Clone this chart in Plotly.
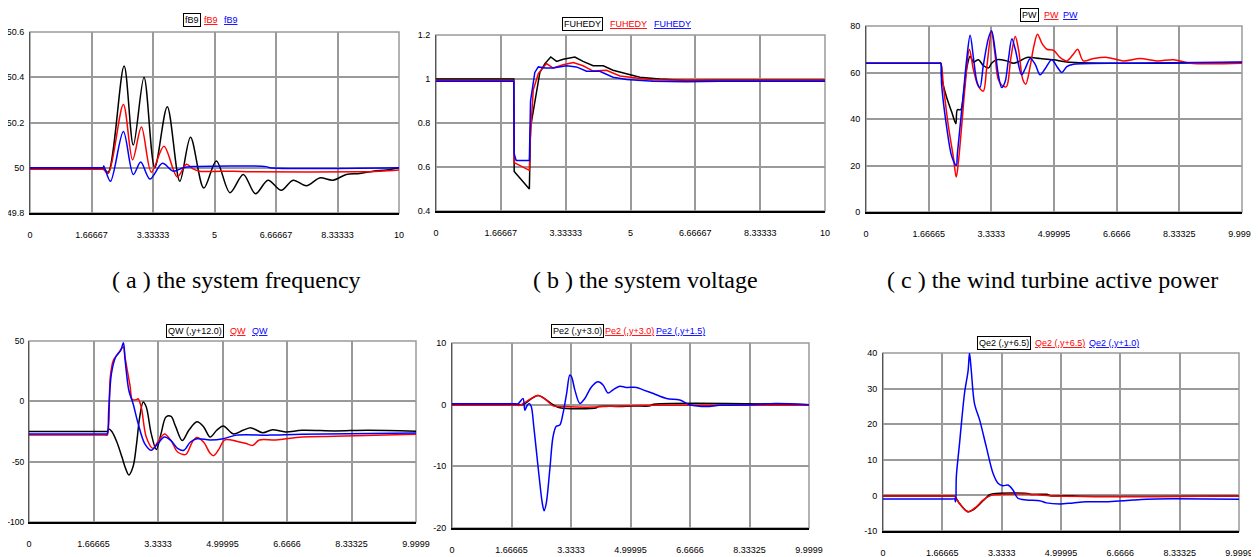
import plotly.graph_objects as go
from plotly.subplots import make_subplots

W, H = 1259, 557
OFF = 8  # page body margin of the html page
FW, FH = W - OFF, H - OFF

# ---------------- (a) system frequency ----------------
a_black_t = [0, 1.9, 1.985, 2.12, 2.55, 2.80, 3.09, 3.38, 3.72, 4.06, 4.35, 4.71, 5.05, 5.42, 5.78, 6.11, 6.45, 6.81, 7.13, 7.49, 7.85, 8.21, 8.57, 8.94, 9.30, 9.66, 10]
a_black_v = [49.997, 49.997, 49.997, 49.98, 50.45, 50.10, 50.40, 50.00, 50.27, 49.94, 50.135, 49.91, 50.03, 49.89, 49.97, 49.885, 49.945, 49.90, 49.945, 49.92, 49.955, 49.945, 49.97, 49.975, 49.985, 49.99, 50.0]
a_red_t = [0, 1.9, 1.985, 2.12, 2.53, 2.78, 3.02, 3.29, 3.63, 3.99, 4.24, 4.42, 4.6, 5.5, 6.0, 9.0, 9.5, 10]
a_red_v = [49.993, 49.993, 49.993, 49.975, 50.28, 50.035, 50.18, 49.98, 50.095, 49.96, 50.015, 49.995, 49.985, 49.985, 49.982, 49.982, 49.985, 49.99]
a_blue_t = [0, 1.9, 1.985, 2.0, 2.18, 2.53, 2.80, 3.0, 3.25, 3.59, 3.88, 4.15, 4.4, 6.4, 6.5, 10]
a_blue_v = [50.0, 50.0, 50.0, 50.008, 49.94, 50.16, 49.97, 50.025, 49.95, 50.02, 49.985, 50.0, 50.005, 50.005, 50.0, 50.0]

# ---------------- (b) system voltage ----------------
b_black_t = [0, 2.0, 2.01, 2.40, 2.43, 2.54, 2.67, 2.80, 2.95, 3.10, 3.27, 3.57, 3.78, 4.04, 4.30, 4.55, 4.90, 5.24, 5.75, 6.44, 7.3, 10]
b_black_v = [1.0, 1.0, 0.58, 0.50, 0.78, 0.90, 1.03, 1.07, 1.10, 1.08, 1.09, 1.10, 1.08, 1.06, 1.06, 1.04, 1.025, 1.008, 1.0, 0.993, 0.995, 0.995]
b_red_t = [0, 2.0, 2.01, 2.40, 2.42, 2.50, 2.63, 2.84, 3.01, 3.27, 3.53, 3.78, 4.04, 4.38, 4.73, 5.07, 5.58, 10]
b_red_v = [0.993, 0.993, 0.62, 0.585, 0.72, 0.95, 1.025, 1.07, 1.05, 1.065, 1.075, 1.06, 1.036, 1.04, 1.014, 1.006, 0.996, 0.996]
b_blue_t = [0, 2.0, 2.01, 2.06, 2.40, 2.43, 2.54, 2.63, 2.80, 3.01, 3.36, 3.61, 3.87, 4.21, 4.55, 4.90, 5.58, 6.44, 7.3, 10]
b_blue_v = [0.99, 0.99, 0.66, 0.63, 0.63, 0.90, 1.03, 1.055, 1.05, 1.05, 1.06, 1.055, 1.035, 1.035, 1.008, 0.998, 0.99, 0.987, 0.99, 0.99]

# ---------------- (c) wind turbine active power ----------------
c_black_t = [0, 1.95, 1.99, 2.01, 2.15, 2.28, 2.39, 2.43, 2.52, 2.59, 2.68, 2.77, 2.86, 2.99, 3.12, 3.26, 3.34, 3.48, 3.74, 3.92, 4.10, 4.28, 4.63, 4.99, 5.34, 6.41, 9.9999]
c_black_v = [64, 64, 64, 58, 49, 43, 38, 44, 44, 50, 62, 67, 64.5, 65.5, 63, 62, 64, 65.5, 65, 64, 65, 66.5, 66, 65.5, 64.5, 64, 64.3]
c_red_t = [0, 1.95, 1.99, 2.06, 2.19, 2.32, 2.40, 2.46, 2.55, 2.64, 2.75, 2.86, 2.99, 3.12, 3.21, 3.34, 3.43, 3.52, 3.66, 3.74, 3.85, 3.97, 4.06, 4.17, 4.25, 4.37, 4.46, 4.56, 4.68, 4.81, 4.99, 5.16, 5.34, 5.52, 5.63, 5.78, 6.05, 6.41, 6.85, 7.29, 7.74, 8.18, 8.62, 9.9999]
c_red_v = [64, 64, 64, 54, 37, 24, 15, 22, 38, 55, 70, 61, 54, 52, 62, 77.5, 68, 57, 54, 54, 66, 75.5, 69.5, 57, 55, 63, 71, 76.5, 72.5, 70, 69.5, 66.5, 65, 68, 70, 65, 66, 66.5, 65, 66, 65, 65.5, 64, 64]
c_blue_t = [0, 1.95, 1.99, 2.01, 2.15, 2.28, 2.40, 2.43, 2.50, 2.59, 2.68, 2.77, 2.86, 2.95, 3.03, 3.12, 3.26, 3.34, 3.43, 3.52, 3.61, 3.70, 3.79, 3.88, 3.97, 4.14, 4.23, 4.37, 4.50, 4.63, 4.76, 4.94, 5.08, 5.21, 5.34, 5.52, 6.96, 9.9999]
c_blue_v = [64, 64, 64, 55, 36, 24, 20, 25, 36.5, 51, 66, 76, 66, 56, 53.5, 63, 75, 78, 70, 59, 53.5, 56, 66, 74.5, 70, 59, 61.5, 66, 63.5, 59, 61.5, 65.5, 62.5, 60, 62.5, 63.5, 64, 64.5]

# ---------------- (d) wind turbine reactive power ----------------
d_black_t = [0, 1.97, 2.02, 2.06, 2.14, 2.27, 2.40, 2.50, 2.58, 2.69, 2.78, 2.86, 2.95, 3.03, 3.16, 3.29, 3.41, 3.54, 3.67, 3.79, 3.96, 4.13, 4.34, 4.51, 4.68, 4.85, 5.02, 5.28, 5.53, 5.74, 6.04, 6.29, 6.63, 7.05, 7.90, 8.75, 9.9999]
d_black_v = [-25, -25, -25, -23, -25, -33.7, -46, -56, -61, -54, -35, -13, -0.5, -4.7, -27, -40, -27, -13, -12.5, -21, -32.5, -24, -17, -21, -29.6, -24, -20.4, -27, -24, -22, -26, -23.5, -25.4, -24, -24.5, -24, -24.7]
d_red_t = [0, 1.97, 2.02, 2.06, 2.10, 2.18, 2.31, 2.44, 2.48, 2.61, 2.67, 2.78, 2.82, 2.90, 3.03, 3.20, 3.33, 3.50, 3.67, 3.84, 4.05, 4.22, 4.34, 4.51, 4.68, 4.77, 4.89, 5.06, 5.36, 5.61, 5.78, 5.95, 6.38, 7.05, 7.90, 9.9999]
d_red_v = [-28, -28, -28, -18.5, 20, 34, 40, 45, 36.7, 13, 1.4, 1.4, 2.2, -4.7, -29.6, -39, -33.7, -27, -32.5, -42, -44, -33.7, -30, -33.7, -43, -45, -40.6, -32, -33, -35, -36.5, -32, -32, -29.6, -29, -27.3]
d_blue_t = [0, 1.97, 2.02, 2.06, 2.13, 2.24, 2.37, 2.44, 2.48, 2.58, 2.69, 2.82, 2.99, 3.16, 3.33, 3.50, 3.67, 3.84, 4.00, 4.17, 4.34, 4.68, 5.02, 5.36, 6.21, 7.05, 9.9999]
d_blue_v = [-27, -27, -27, -7.5, 22.9, 36.7, 42.3, 48.6, 35.4, 9, -2, -18.5, -35, -40.6, -35, -29.6, -32.5, -39, -40.6, -33.7, -31, -32, -31, -28, -28, -27.3, -26.2]

# ---------------- (e) generator active power ----------------
e_black_t = [0, 1.9, 1.99, 2.41, 2.83, 3.02, 4.05, 4.10, 4.70, 5.07, 5.55, 5.60, 9.9999]
e_black_v = [0, 0, 0, 1.5, 0, -0.5, -0.5, -0.3, -0.3, -0.2, -0.2, 0, 0]
e_red_t = [0, 1.8, 1.90, 2.08, 2.41, 2.64, 2.83, 3.11, 3.77, 4.24, 4.70, 5.64, 9.9999]
e_red_v = [-0.1, -0.1, -0.1, 0.5, 1.5, 0.75, -0.2, -0.3, -0.4, -0.3, -0.2, -0.1, -0.1]
e_blue_t = [0, 1.75, 1.85, 1.99, 2.04, 2.09, 2.16, 2.22, 2.29, 2.36, 2.46, 2.53, 2.58, 2.64, 2.74, 2.83, 2.92, 3.02, 3.11, 3.21, 3.30, 3.35, 3.44, 3.58, 3.72, 3.91, 4.09, 4.23, 4.37, 4.51, 4.70, 4.88, 5.17, 5.35, 5.64, 6.01, 6.38, 6.66, 7.13, 7.50, 8.41, 9.07, 9.9999]
e_blue_v = [0.15, 0.15, 0.15, 1.0, -0.9, -0.3, 0.2, -0.3, -3.5, -7.3, -12.7, -16, -17.2, -16, -10.5, -5.2, -3.5, -3.3, -1.4, 1.8, 4.8, 4.5, 2.4, 0.2, 1.0, 2.9, 3.7, 3.2, 1.9, 2.4, 3.0, 2.8, 2.8, 2.4, 1.8, 1.0, 0.75, 0.0, -0.3, -0.1, 0.0, 0.2, 0.0]

# ---------------- (f) generator reactive power ----------------
f_black_t = [0, 1.95, 2.01, 2.15, 2.39, 2.62, 2.81, 3.00, 3.10, 4.10, 4.13, 4.60, 4.70, 5.35, 5.40, 9.9999]
f_black_v = [-0.2, -0.2, -0.2, -2.3, -4.6, -3.4, -1.5, 0.2, 0.5, 0.5, 0.3, 0.3, -0.1, -0.1, -0.2, -0.2]
f_red_t = [0, 1.95, 2.01, 2.15, 2.39, 2.62, 2.81, 3.04, 3.46, 4.03, 4.40, 4.87, 9.9999]
f_red_v = [-0.2, -0.2, -0.2, -2.3, -4.6, -3.2, -1.3, 0.0, 0.3, 0.4, 0.1, -0.2, -0.2]
f_blue_t = [0, 1.95, 2.01, 2.04, 2.06, 2.15, 2.29, 2.39, 2.43, 2.48, 2.57, 2.72, 2.90, 3.09, 3.23, 3.37, 3.51, 3.65, 3.79, 4.03, 4.40, 4.59, 4.96, 5.34, 5.71, 6.27, 6.74, 7.02, 7.68, 9.9999]
f_blue_v = [-1.0, -1.0, -1.0, -1.8, 5.3, 14.6, 28.7, 35, 40, 35, 25.8, 21, 13.7, 6.2, 3.4, 2.7, 2.9, 1.5, -0.8, -1.3, -1.5, -2.1, -2.4, -2.1, -1.8, -1.8, -1.5, -1.3, -1.0, -1.1]

# tick labels
x_ticks_ab = [0, 1.66667, 3.33333, 5, 6.66667, 8.33333, 10]
x_labels_ab = ["0", "1.66667", "3.33333", "5", "6.66667", "8.33333", "10"]
x_ticks_cf = [0, 1.66665, 3.3333, 4.99995, 6.6666, 8.33325, 9.9999]
x_labels_cf = ["0", "1.66665", "3.3333", "4.99995", "6.6666", "8.33325", "9.9999"]

y_ticks = [
    [49.8, 50.0, 50.2, 50.4, 50.6],
    [0.4, 0.6, 0.8, 1.0, 1.2],
    [0, 20, 40, 60, 80],
    [-100, -50, 0, 50],
    [-20, -10, 0, 10],
    [-10, 0, 10, 20, 30, 40],
]
y_labels = [
    ["49.8", "50", "50.2", "50.4", "50.6"],
    ["0.4", "0.6", "0.8", "1", "1.2"],
    ["0", "20", "40", "60", "80"],
    ["-100", "-50", "0", "50"],
    ["-20", "-10", "0", "10"],
    ["-10", "0", "10", "20", "30", "40"],
]

legend_texts = [
    ["fB9", "fB9", "fB9"],
    ["FUHEDY", "FUHEDY", "FUHEDY"],
    ["PW", "PW", "PW"],
    ["QW (,y+12.0)", "QW", "QW"],
    ["Pe2 (,y+3.0)", "Pe2 (,y+3.0)", "Pe2 (,y+1.5)"],
    ["Qe2 (,y+6.5)", "Qe2 (,y+6.5)", "Qe2 (,y+1.0)"],
]
captions = ["( a ) the system frequency", "( b ) the system voltage", "( c ) the wind turbine active power"]

# ---------------- layout geometry (page pixels) ----------------
boxes = [  # left, right, top, bottom
    (30, 399, 32, 213),
    (436, 825, 35, 211),
    (866, 1242, 26, 212),
    (29, 416, 341, 522),
    (452, 809, 343, 528),
    (883, 1239, 353, 531),
]
ytick_sizes = [9, 9, 9, 8.5, 9, 9]
ytick_standoff = [3, 3, 3, 2, 3, 3]
legend_pos = [  # centers x of each label, y center
    ((192, 211, 231), 20),
    ((582, 628, 673), 24),
    ((1030, 1051, 1070), 15),
    ((195, 238, 260), 331),
    ((577, 629, 680), 331),
    ((1004, 1060, 1114), 343),
]
caption_pos = [(236, 280), (645, 280), (1052, 280)]

series = [
    [(a_black_t, a_black_v), (a_red_t, a_red_v), (a_blue_t, a_blue_v)],
    [(b_black_t, b_black_v), (b_red_t, b_red_v), (b_blue_t, b_blue_v)],
    [(c_black_t, c_black_v), (c_red_t, c_red_v), (c_blue_t, c_blue_v)],
    [(d_black_t, d_black_v), (d_red_t, d_red_v), (d_blue_t, d_blue_v)],
    [(e_black_t, e_black_v), (e_red_t, e_red_v), (e_blue_t, e_blue_v)],
    [(f_black_t, f_black_v), (f_red_t, f_red_v), (f_blue_t, f_blue_v)],
]
colors = ["#000000", "#ff0000", "#0000ff"]


def px(xp):
    return (xp - OFF) / FW


def py(yp):
    return 1 - (yp - OFF) / FH


fig = make_subplots(rows=2, cols=3)
FAM = "Liberation Sans, Arial, sans-serif"

for i in range(6):
    r, c = i // 3 + 1, i % 3 + 1
    for k in [0, 1, 2]:
        t, v = series[i][k]
        shape = "linear" if i == 1 else "spline"
        fig.add_trace(go.Scatter(x=t, y=v, mode="lines",
                                 line=dict(color=colors[k], width=1.5, shape=shape, smoothing=0.9),
                                 showlegend=False, hoverinfo="skip"), row=r, col=c)
    L, R, T, B = boxes[i]
    xs = x_ticks_ab if i < 2 else x_ticks_cf
    xl = x_labels_ab if i < 2 else x_labels_cf
    ax = "xaxis" if i == 0 else f"xaxis{i+1}"
    ay = "yaxis" if i == 0 else f"yaxis{i+1}"
    fig.layout[ax].update(domain=[px(L), px(R)], range=[xs[0], xs[-1]], tickmode="array",
                          tickvals=xs, ticktext=xl, showgrid=True, gridcolor="#9a9a9a", gridwidth=1.5,
                          showline=True, linecolor="#000", linewidth=2, ticks="",
                          tickfont=dict(family=FAM, size=9, color="#000"),
                          ticklabelstandoff=12, zeroline=False, fixedrange=True, automargin=False)
    fig.layout[ay].update(domain=[py(B), py(T)], range=[y_ticks[i][0], y_ticks[i][-1]],
                          tickmode="array", tickvals=y_ticks[i], ticktext=y_labels[i],
                          showgrid=True, gridcolor="#9a9a9a", gridwidth=1.5,
                          showline=True, linecolor="#555", linewidth=1, ticks="",
                          tickfont=dict(family=FAM, size=ytick_sizes[i], color="#000"),
                          ticklabelstandoff=ytick_standoff[i], zeroline=False, fixedrange=True,
                          automargin=False)
    xref = "x" if i == 0 else f"x{i+1}"
    yref = "y" if i == 0 else f"y{i+1}"
    fig.add_shape(type="rect", xref=f"{xref} domain", yref=f"{yref} domain", x0=0, x1=1, y0=0, y1=1,
                  line=dict(color="#9a9a9a", width=1.5), layer="below")
    xs_leg, yc = legend_pos[i]
    for k in range(3):
        txt = legend_texts[i][k]
        if k == 0:
            fig.add_annotation(x=px(xs_leg[k]), y=py(yc), xref="paper", yref="paper", text=txt,
                               showarrow=False, xanchor="center", yanchor="middle",
                               font=dict(family=FAM, size=9, color="#000"),
                               bordercolor="#000", borderwidth=1, borderpad=1, bgcolor="#fff")
        else:
            fig.add_annotation(x=px(xs_leg[k]), y=py(yc), xref="paper", yref="paper",
                               text=f'<span style="text-decoration:underline">{txt}</span>',
                               showarrow=False, xanchor="center", yanchor="middle",
                               font=dict(family=FAM, size=9, color=colors[k]))

for j, cap in enumerate(captions):
    cx, cy = caption_pos[j]
    fig.add_annotation(x=px(cx), y=py(cy), xref="paper", yref="paper", text=cap, showarrow=False,
                       xanchor="center", yanchor="middle",
                       font=dict(family="Liberation Serif, Times New Roman, serif", size=24, color="#000"))

fig.update_layout(width=FW, height=FH, margin=dict(l=0, r=0, t=0, b=0), plot_bgcolor="#fff",
                  paper_bgcolor="#fff", showlegend=False)
fig.write_html("out.html")
